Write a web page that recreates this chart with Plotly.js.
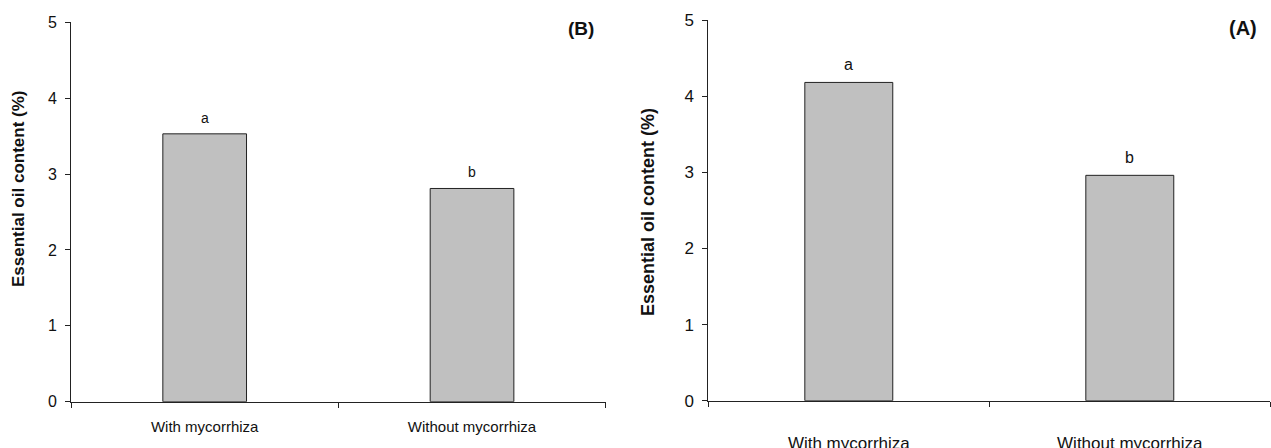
<!DOCTYPE html>
<html>
<head>
<meta charset="utf-8">
<script src="https://cdn.plot.ly/plotly-3.0.1.min.js"></script>
<style>html,body{margin:0;padding:0;background:#fff;}#chart{width:1271px;height:448px;}</style>
</head>
<body>
<div id="chart"></div>
<script>
// Data
const categories = ["With mycorrhiza", "Without mycorrhiza"];
const valuesB = [3.53, 2.81];
const valuesA = [4.18, 2.96];
const lettersB = ["a", "b"];
const lettersA = ["a", "b"];
const panelLabels = ["(B)", "(A)"];
const yTitle = "Essential oil content (%)";
const yTicks = [0, 1, 2, 3, 4, 5];

const W = 1271, H = 448;
const FONT = "Liberation Sans, Arial, sans-serif";
const AX = "#222";

function barTrace(vals, xa, ya) {
  return {
    type: "bar", x: categories, y: vals, xaxis: xa, yaxis: ya,
    width: 0.313,
    marker: {color: "#c0c0c0", line: {color: "#222", width: 1}},
    hoverinfo: "skip", showlegend: false
  };
}

function xAxis(domain, fs, standoff) {
  return {
    domain: domain, range: [-0.5, 1.5], type: "category",
    showline: true, linecolor: AX, linewidth: 1,
    ticks: "outside", tickson: "boundaries", ticklen: 5, tickcolor: AX,
    tickfont: {family: FONT, size: fs, color: "#111"},
    ticklabelstandoff: standoff,
    showgrid: false, zeroline: false, fixedrange: true
  };
}
function yAxis(domain, fs, anchor) {
  return {
    domain: domain, range: [0, 5], anchor: anchor,
    tickvals: yTicks, ticktext: yTicks.map(String),
    showline: true, linecolor: AX, linewidth: 1,
    ticks: "outside", ticklen: 5, tickcolor: AX,
    tickfont: {family: FONT, size: fs, color: "#111"},
    ticklabelstandoff: 5,
    showgrid: false, zeroline: false, fixedrange: true
  };
}

const data = [barTrace(valuesB, "x", "y"), barTrace(valuesA, "x2", "y2")];

const annotations = [];
categories.forEach((c, i) => {
  annotations.push({x: c, y: valuesB[i], xref: "x", yref: "y", text: lettersB[i], showarrow: false,
    yanchor: "bottom", yshift: 6, font: {family: FONT, size: 14, color: "#111"}});
  annotations.push({x: c, y: valuesA[i], xref: "x2", yref: "y2", text: lettersA[i], showarrow: false,
    yanchor: "bottom", yshift: 7, font: {family: FONT, size: 16, color: "#111"}});
});
annotations.push({xref: "paper", yref: "paper", x: 581 / W, y: 1 - 28 / H, text: "<b>" + panelLabels[0] + "</b>",
  showarrow: false, xanchor: "center", yanchor: "middle", font: {family: FONT, size: 19, color: "#111"}});
annotations.push({xref: "paper", yref: "paper", x: 1243 / W, y: 1 - 28 / H, text: "<b>" + panelLabels[1] + "</b>",
  showarrow: false, xanchor: "center", yanchor: "middle", font: {family: FONT, size: 20, color: "#111"}});
annotations.push({xref: "paper", yref: "paper", x: 18 / W, y: 1 - 189 / H, text: "<b>" + yTitle + "</b>", textangle: -90,
  showarrow: false, xanchor: "center", yanchor: "middle", font: {family: FONT, size: 17, color: "#111"}});
annotations.push({xref: "paper", yref: "paper", x: 648 / W, y: 1 - 212 / H, text: "<b>" + yTitle + "</b>", textangle: -90,
  showarrow: false, xanchor: "center", yanchor: "middle", font: {family: FONT, size: 18, color: "#111"}});

const layout = {
  width: W, height: H,
  margin: {l: 0, r: 0, t: 0, b: 0},
  paper_bgcolor: "#fff", plot_bgcolor: "#fff",
  bargap: 0,
  xaxis: xAxis([71 / W, 605.7 / W], 15, 11),
  yaxis: yAxis([1 - 401.7 / H, 1 - 22.3 / H], 16, "x"),
  xaxis2: xAxis([708.3 / W, 1270.3 / W], 17, 27),
  yaxis2: yAxis([1 - 400.7 / H, 1 - 20 / H], 17, "x2"),
  annotations: annotations
};
layout.xaxis.anchor = "y";
layout.xaxis2.anchor = "y2";

Plotly.newPlot("chart", data, layout, {staticPlot: true, displayModeBar: false});
</script>
</body>
</html>
